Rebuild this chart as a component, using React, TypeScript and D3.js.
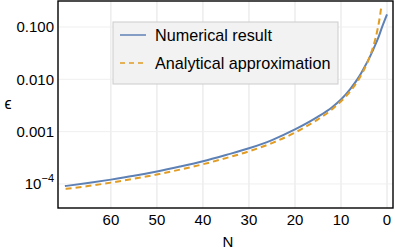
import { useEffect, useRef } from 'react';
import * as d3 from 'd3';

// values
const numN = [0, 1, 2, 3, 4, 5, 6, 8, 10, 12, 15, 20, 25, 30, 35, 40, 45, 50, 55, 60, 65, 70];
const numEps = [0.175, 0.104, 0.059, 0.037, 0.024, 0.0165, 0.0115, 0.0065, 0.0041, 0.0029, 0.00193, 0.0011, 0.00069, 0.00048, 0.000358, 0.000272, 0.000215, 0.000173, 0.000143, 0.000121, 0.000104, 0.000091];

const anaN = [1.3, 1.6, 2, 2.5, 3, 4, 5, 6, 8, 10, 12, 15, 20, 25, 30, 35, 40, 45, 50, 55, 60, 65, 70];
const anaEps = [0.225, 0.148, 0.095, 0.061, 0.0422, 0.0238, 0.0152, 0.0105, 0.0059, 0.0038, 0.00265, 0.00172, 0.00096, 0.000605, 0.00042, 0.000312, 0.000238, 0.000188, 0.000152, 0.000126, 0.000106, 0.000091, 0.00008];

const xTicks = [60, 50, 40, 30, 20, 10, 0];
const yTicks = [0.1, 0.01, 0.001, 0.0001];
const yTickLabels = ['0.100', '0.010', '0.001', '10^-4'];

const legendItems = ['Numerical result', 'Analytical approximation'];

const blue = '#5e81b5';
const orange = '#e19c24';

export default function App() {
  const svgRef = useRef<SVGSVGElement | null>(null);

  useEffect(() => {
    const svg = d3.select(svgRef.current);
    svg.selectAll('*').remove();

    const left = 58, right = 393, top = 1, bottom = 208;
    const font = '"Liberation Sans", Arial, sans-serif';

    const x = d3.scaleLinear().domain([71.5, -1.3]).range([left, right]);
    const y = d3.scaleLog().domain([3.47e-5, 0.314]).range([bottom, top]);

    // grid
    svg.append('g')
      .selectAll('line')
      .data(xTicks)
      .join('line')
      .attr('x1', d => x(d)).attr('x2', d => x(d))
      .attr('y1', top).attr('y2', bottom)
      .attr('stroke', '#e3e3e3').attr('stroke-width', 1);

    svg.append('g')
      .selectAll('line')
      .data(yTicks)
      .join('line')
      .attr('x1', left).attr('x2', right)
      .attr('y1', d => y(d)).attr('y2', d => y(d))
      .attr('stroke', '#efefef').attr('stroke-width', 1);

    const line = d3.line<[number, number]>()
      .x(d => x(d[0]))
      .y(d => y(d[1]))
      .curve(d3.curveMonotoneX);

    const clip = svg.append('clipPath').attr('id', 'clip');
    clip.append('rect').attr('x', left).attr('y', top).attr('width', right - left).attr('height', bottom - top);

    const plot = svg.append('g').attr('clip-path', 'url(#clip)');

    plot.append('path')
      .datum(numN.map((n, i) => [n, numEps[i]] as [number, number]))
      .attr('d', line)
      .attr('fill', 'none')
      .attr('stroke', blue)
      .attr('stroke-width', 2);

    plot.append('path')
      .datum(anaN.map((n, i) => [n, anaEps[i]] as [number, number]))
      .attr('d', line)
      .attr('fill', 'none')
      .attr('stroke', orange)
      .attr('stroke-width', 2)
      .attr('stroke-dasharray', '6,4');

    // frame
    svg.append('rect')
      .attr('x', left).attr('y', top)
      .attr('width', right - left).attr('height', bottom - top)
      .attr('fill', 'none').attr('stroke', '#000').attr('stroke-width', 1.4);

    // x tick labels
    svg.append('g')
      .selectAll('text')
      .data(xTicks)
      .join('text')
      .attr('x', d => x(d))
      .attr('y', 225)
      .attr('text-anchor', 'middle')
      .attr('font-family', font)
      .attr('font-size', 15)
      .text(d => d);

    // y tick labels
    const yl = svg.append('g')
      .selectAll('text')
      .data(yTicks)
      .join('text')
      .attr('x', 54)
      .attr('y', d => y(d) + 5.5)
      .attr('text-anchor', 'end')
      .attr('font-family', font)
      .attr('font-size', 15);
    yl.each(function (d, i) {
      const t = d3.select(this);
      const lab = yTickLabels[i];
      if (lab.includes('^')) {
        const [base, exp] = lab.split('^');
        t.append('tspan').text(base);
        t.append('tspan').attr('dy', -7).attr('font-size', 11).text(exp.replace('-', '\u2212'));
      } else {
        t.text(lab);
      }
    });

    // axis titles
    svg.append('text')
      .attr('x', 228).attr('y', 247)
      .attr('text-anchor', 'middle')
      .attr('font-family', font).attr('font-size', 15)
      .text('N');
    svg.append('text')
      .attr('x', 8).attr('y', 109)
      .attr('text-anchor', 'middle')
      .attr('font-family', font).attr('font-size', 16)
      .text('\u03f5');

    // legend
    const lg = svg.append('g');
    lg.append('rect')
      .attr('x', 113).attr('y', 22)
      .attr('width', 225).attr('height', 62)
      .attr('fill', '#f2f2f2')
      .attr('stroke', '#cccccc').attr('stroke-width', 1);
    legendItems.forEach((label, i) => {
      const cy = 35 + i * 28;
      lg.append('line')
        .attr('x1', 120).attr('x2', 146)
        .attr('y1', cy).attr('y2', cy)
        .attr('stroke', i === 0 ? blue : orange)
        .attr('stroke-width', 1.5)
        .attr('stroke-dasharray', i === 0 ? null : '5,4');
      lg.append('text')
        .attr('x', 155).attr('y', cy + 5.5)
        .attr('font-family', font).attr('font-size', 16.2)
        .text(label);
    });
  }, []);

  return (
    <svg
      ref={svgRef}
      width={395}
      height={251}
      style={{ position: 'absolute', left: 0, top: 0, background: '#fff' }}
    />
  );
}
